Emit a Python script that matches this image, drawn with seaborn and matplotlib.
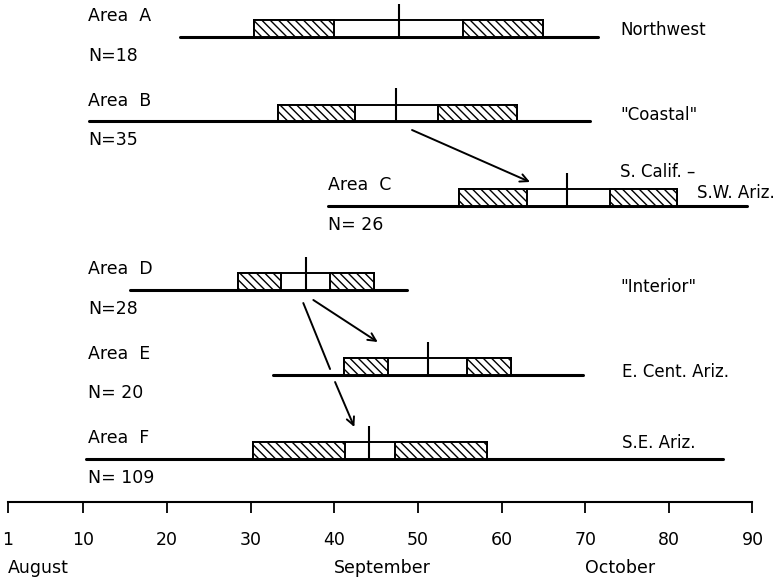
import numpy as np
import pandas as pd
import matplotlib
matplotlib.use("Agg")
import matplotlib.pyplot as plt
import seaborn as sns

# ---- data (days counted from 1 August) ----
areas = ["Area  A", "Area  B", "Area  C", "Area  D", "Area  E", "Area  F"]
n_labels = ["N=18", "N=35", "N= 26", "N=28", "N= 20", "N= 109"]
range_lo = [21.6, 10.7, 39.3, 15.6, 32.7, 10.3]
range_hi = [71.5, 70.6, 89.3, 48.7, 69.7, 86.5]
sd_lo = [30.4, 33.3, 54.9, 28.5, 41.2, 30.3]
sd_hi = [65.0, 61.9, 81.0, 44.8, 61.1, 58.3]
se_lo = [40.0, 42.5, 63.0, 33.6, 46.4, 41.3]
se_hi = [55.4, 52.4, 73.0, 39.5, 55.9, 47.3]
means = [47.7, 47.4, 67.8, 36.6, 51.2, 44.2]

region_text = ["Northwest", "\"Coastal\"", "S. Calif. \u2013", "S.W. Ariz.",
               "\"Interior\"", "E. Cent. Ariz.", "S.E. Ariz."]
region_x = [74.2, 74.2, 74.2, 83.4, 74.2, 74.4, 74.4]
region_y = [-0.08, 0.92, 1.60, 1.85, 2.96, 3.97, 4.81]

area_label_x = [10.6, 10.6, 39.3, 10.6, 10.6, 10.6]

# arrows: (x0, y0, x1, y1, with_head)
arrows = [
    (49.3, 1.102, 63.4, 1.718, True),
    (37.5, 3.116, 45.2, 3.614, True),
    (36.3, 3.152, 39.5, 3.934, False),
    (40.1, 4.088, 42.4, 4.621, True),
]

tick_vals = [1, 10, 20, 30, 40, 50, 60, 70, 80, 90]
tick_labels = ["1", "10", "20", "30", "40", "50", "60", "70", "80", "90"]
month_ticks = [1, 40, 70]
month_names = ["August", "September", "October"]

rows = np.arange(len(areas))

# ---- style ----
sns.set_theme(style="white")
plt.rcParams["font.family"] = ["DejaVu Sans"]
plt.rcParams["hatch.linewidth"] = 1.0
plt.rcParams["text.color"] = "black"
plt.rcParams["xtick.color"] = "black"
plt.rcParams["axes.edgecolor"] = "black"

FS = 12.5
FS_R = 12
fig = plt.figure(figsize=(7.79, 5.78), dpi=100)
ax = fig.add_axes([8 / 779, 1 - 502 / 578, 744.5 / 779, 502 / 578])

# range lines via seaborn
df = pd.DataFrame({
    "area": np.repeat(areas, 2),
    "day": np.ravel(np.column_stack([range_lo, range_hi])),
    "row": np.repeat(rows, 2),
})
sns.lineplot(data=df, x="day", y="row", units="area", estimator=None,
             color="black", lw=2.2, ax=ax, sort=False, legend=False)

bh = 0.20
sd_lo_a, sd_hi_a = np.array(sd_lo), np.array(sd_hi)
se_lo_a, se_hi_a = np.array(se_lo), np.array(se_hi)
ax.barh(rows - bh, sd_hi_a - sd_lo_a, left=sd_lo_a, height=bh, align="edge",
        color="white", edgecolor="black", lw=1.4, zorder=3)
ax.barh(rows - bh, se_lo_a - sd_lo_a, left=sd_lo_a, height=bh, align="edge",
        color="white", edgecolor="black", lw=1.4, hatch="\\\\\\\\", zorder=4)
ax.barh(rows - bh, sd_hi_a - se_hi_a, left=se_hi_a, height=bh, align="edge",
        color="white", edgecolor="black", lw=1.4, hatch="\\\\\\\\", zorder=4)
ax.vlines(means, rows - 0.39, rows, color="black", lw=1.5, zorder=5)

# labels
for i in rows:
    ax.annotate(areas[i], xy=(area_label_x[i], i), xytext=(0, 15),
                textcoords="offset points", ha="left", va="center", fontsize=FS)
    ax.annotate(n_labels[i], xy=(area_label_x[i], i), xytext=(0, -13.5),
                textcoords="offset points", ha="left", va="center", fontsize=FS)
for t, x, y in zip(region_text, region_x, region_y):
    ax.text(x, y, t, ha="left", va="center", fontsize=FS_R)

for x0, y0, x1, y1, head in arrows:
    ax.annotate("", xy=(x1, y1), xytext=(x0, y0),
                arrowprops=dict(arrowstyle="->" if head else "-", lw=1.4,
                                color="black", shrinkA=0, shrinkB=0,
                                mutation_scale=14))

# axis
ax.set_xlim(1, 90)
ax.set_ylim(5.5095, -0.4384)
ax.set_xticks(tick_vals)
ax.set_xticklabels(tick_labels)
ax.set_xticks(month_ticks, minor=True)
ax.tick_params(axis="x", which="major", direction="out", length=8, width=1.3,
               pad=13, labelsize=FS, bottom=True)
ax.tick_params(axis="x", which="minor", direction="out", length=15, width=1.3,
               bottom=True)
ax.set_yticks([])
ax.set_xlabel("")
ax.set_ylabel("")
for s in ["top", "left", "right"]:
    ax.spines[s].set_visible(False)
ax.spines["bottom"].set_linewidth(1.5)

for d, m in zip(month_ticks, month_names):
    ax.text(d, -66 / 502, m, transform=ax.get_xaxis_transform(),
            ha="left", va="center", fontsize=FS)

fig.savefig("out.png", dpi=100)
